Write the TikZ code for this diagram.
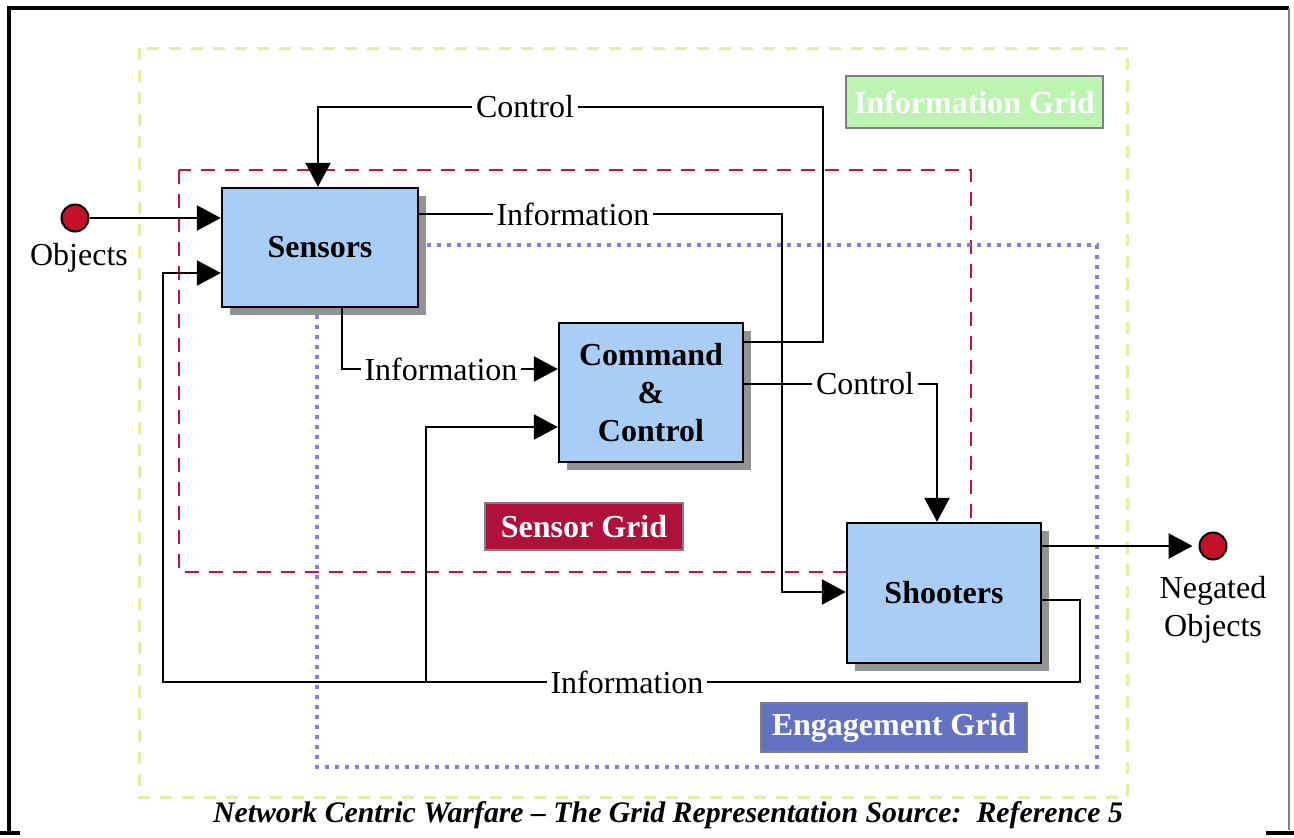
\documentclass[tikz,border=0pt]{standalone}
\usepackage{fontspec}
\setmainfont{Liberation Serif}
\usetikzlibrary{arrows.meta,shadows}

\definecolor{boxblue}{RGB}{168,206,246}
\definecolor{infogreen}{RGB}{222,242,160}
\definecolor{infolabel}{RGB}{190,244,178}
\definecolor{sensred}{RGB}{208,16,58}
\definecolor{senslabel}{RGB}{176,16,58}
\definecolor{engblue}{RGB}{128,128,228}
\definecolor{englabel}{RGB}{100,114,196}
\definecolor{dotred}{RGB}{196,16,40}

\tikzset{
  unit/.style={draw=black, line width=1.2pt, fill=boxblue, font=\bfseries\fontsize{16}{19}\selectfont,
    align=center, drop shadow={shadow xshift=4pt, shadow yshift=-4pt, fill=gray!85, opacity=1}},
  arr/.style={line width=1.25pt, -{Triangle[length=12pt,width=12.5pt]}},
  lbl/.style={fill=white, inner sep=2pt, font=\fontsize{16}{19}\selectfont},
  gridtag/.style={draw=gray, line width=0.6pt, text=white, font=\bfseries\fontsize{16}{19}\selectfont, inner sep=0pt},
  objdot/.style={circle, draw=black, line width=1pt, fill=dotred, minimum size=13.5pt, inner sep=0pt},
  infogrid/.style={draw=infogreen, line width=1.5pt, dash pattern=on 6pt off 5pt},
  sensgrid/.style={draw=sensred, line width=1.2pt, dash pattern=on 7pt off 5pt},
  enggrid/.style={draw=engblue, line width=2.2pt, dash pattern=on 2.2pt off 2.8pt},
}

\begin{document}
\begin{tikzpicture}[x=0.5pt, y=-0.5pt]
  \useasboundingbox (0,0) rectangle (1294,837);

  % outer frame
  \draw[line width=2pt] (0,833) -- (20,833);
  \draw[line width=2pt] (1266,833) -- (1294,833);
  \draw[line width=2pt] (9,835) -- (9,8) -- (1289,8);
  \draw[line width=1pt, gray] (1289,8) -- (1289,830);

  % grid outlines
  \draw[infogrid] (139,48) rectangle (1127,797);
  \draw[sensgrid] (179,170) rectangle (971,572);
  \draw[enggrid] (317,245) rectangle (1097,767);

  % grid tags
  \node[gridtag, fill=infolabel, minimum width=128.5pt, minimum height=26pt] (tinfo) at (974.5,102) {Information Grid};
  \node[gridtag, fill=senslabel, minimum width=99pt, minimum height=23.5pt] (tsens) at (584,526.5) {Sensor Grid};
  \node[gridtag, fill=englabel, minimum width=133pt, minimum height=24.5pt] (teng) at (894,727.5) {Engagement Grid};

  % main units
  \node[unit, minimum width=98pt, minimum height=59.5pt] (sensors) at (320,247.5) {Sensors};
  \node[unit, minimum width=92pt, minimum height=69.5pt] (cc) at (651,392.5) {Command\\\&\\Control};
  \node[unit, minimum width=97pt, minimum height=70pt] (shooters) at (944,593) {Shooters};

  % objects in and out
  \node[objdot] (obj) at (75,218) {};
  \node[font=\fontsize{16}{19}\selectfont] (objlbl) at (79,258) {Objects};
  \node[objdot] (neg) at (1213,546) {};
  \node[font=\fontsize{16}{19}\selectfont, align=center] (neglbl) at (1213,610) {Negated\\Objects};

  % bend points
  \coordinate (c1) at (823,342);
  \coordinate (c1top) at (823,107);
  \coordinate (c1bend) at (318,107);
  \coordinate (i1) at (782,214);
  \coordinate (i1b) at (782,592);
  \coordinate (i2) at (342,369);
  \coordinate (c2) at (937,384);
  \coordinate (i3) at (1080,600);
  \coordinate (i3b) at (1080,682);
  \coordinate (i3c) at (163,682);
  \coordinate (i3d) at (163,273);
  \coordinate (j) at (426,682);
  \coordinate (jb) at (426,427);

  % connectors
  \draw[arr] (obj.east) -- (obj -| sensors.west);
  \draw[arr] (cc.east |- c1) -- (c1) -- (c1top) -- (c1bend) -- (c1bend |- sensors.north);
  \draw[arr] (sensors.east |- i1) -- (i1) -- (i1b) -- (i1b -| shooters.west);
  \draw[arr] (sensors.south -| i2) -- (i2) -- (i2 -| cc.west);
  \draw[arr] (cc.east |- c2) -- (c2) -- (c2 |- shooters.north);
  \draw[arr] (shooters.east |- i3) -- (i3) -- (i3b) -- (i3c) -- (i3d) -- (i3d -| sensors.west);
  \draw[arr] (j) -- (jb) -- (jb -| cc.west);
  \draw[arr, shorten >=3pt] (shooters.east |- neg) -- (neg.west);

  % connector labels
  \node[lbl] (lc1) at (525,107) {Control};
  \node[lbl] (li1) at (573,214) {Information};
  \node[lbl] (li2) at (441,369) {Information};
  \node[lbl] (lc2) at (865,384) {Control};
  \node[lbl] (li3) at (627,682) {Information};

  % caption
  \node[font=\bfseries\itshape\fontsize{14.9}{18}\selectfont] (cap) at (668,815)
    {Network Centric Warfare -- The Grid Representation Source:\ \ Reference 5};
\end{tikzpicture}
\end{document}
